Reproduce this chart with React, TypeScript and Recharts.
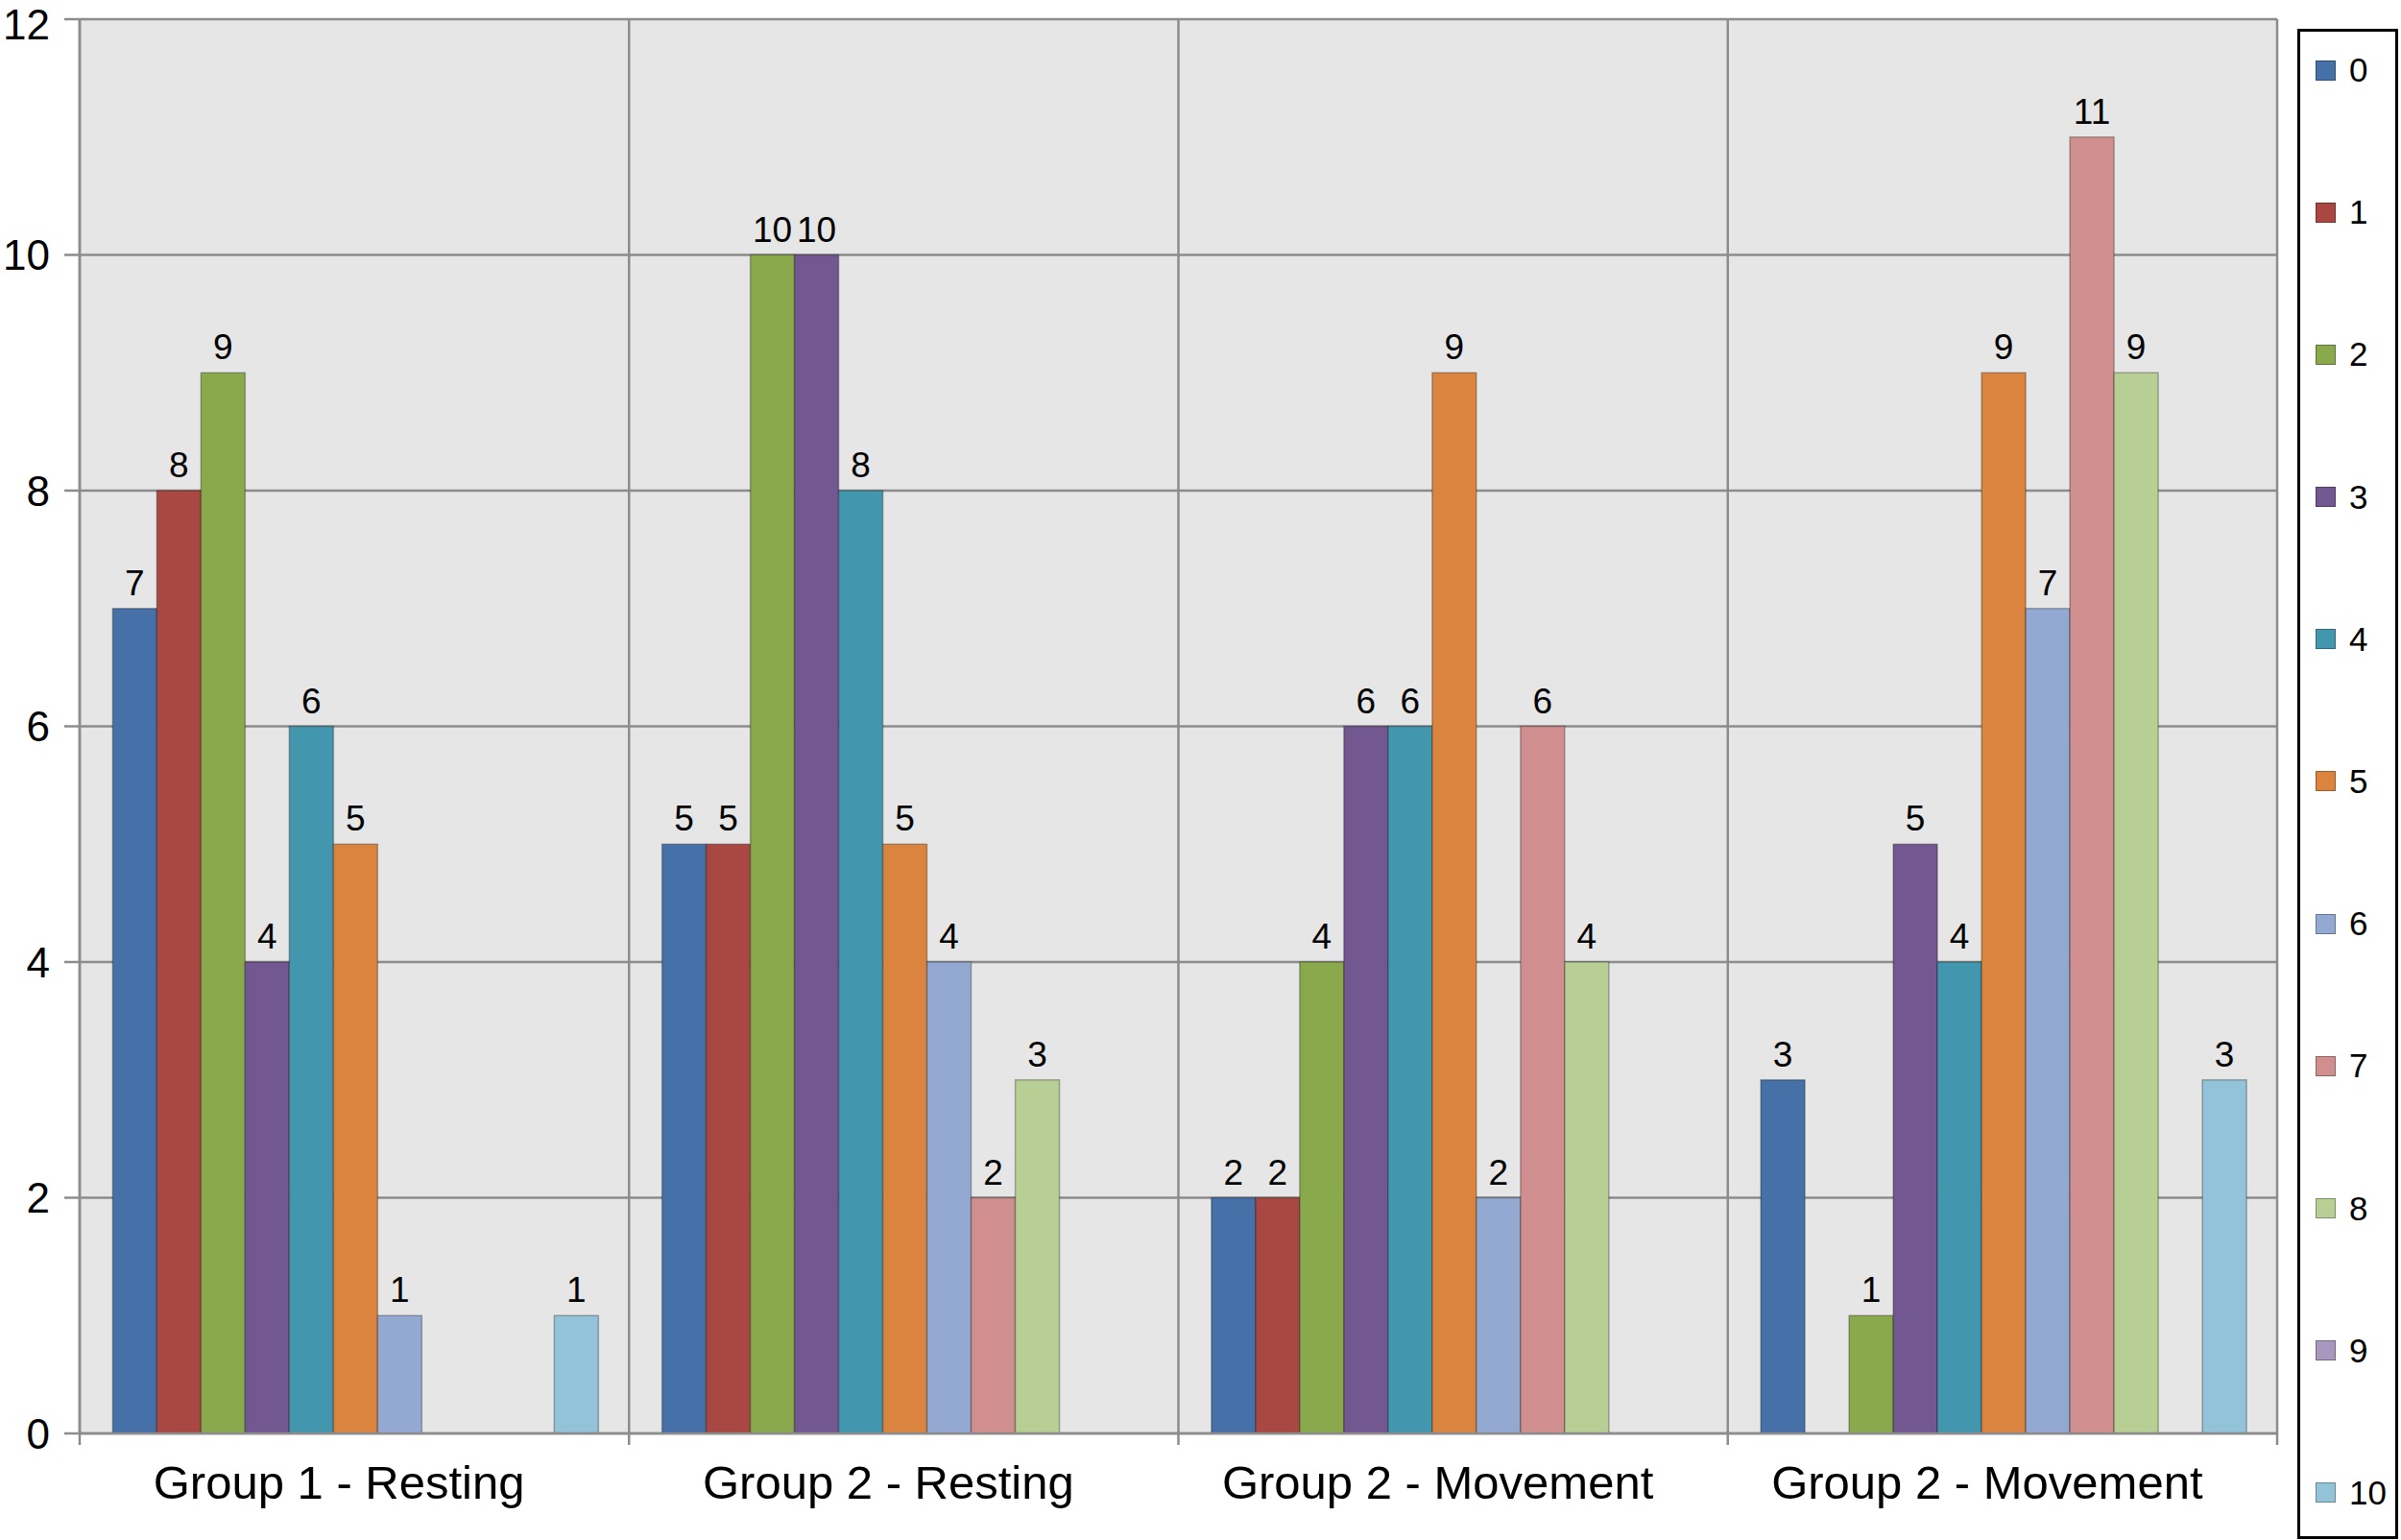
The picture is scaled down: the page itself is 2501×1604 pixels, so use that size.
import React from 'react';
import { BarChart, Bar, XAxis, YAxis, CartesianGrid, LabelList } from 'recharts';

const categories = ['Group 1 - Resting', 'Group 2 - Resting', 'Group 2 - Movement', 'Group 2 - Movement'];
const seriesNames = ['0', '1', '2', '3', '4', '5', '6', '7', '8', '9', '10'];
const seriesColors = ['#4570A8', '#A94743', '#8AA84C', '#725790', '#4297AE', '#DA843F', '#93A9D1', '#D08F8E', '#B7CE94', '#A898C0', '#92C3D8'];

const group1Resting = [7, 8, 9, 4, 6, 5, 1, 0, 0, 0, 1];
const group2Resting = [5, 5, 10, 10, 8, 5, 4, 2, 3, 0, 0];
const group2MovementA = [2, 2, 4, 6, 6, 9, 2, 6, 4, 0, 0];
const group2MovementB = [3, 0, 1, 5, 4, 9, 7, 11, 9, 0, 3];

const yTicks = [0, 2, 4, 6, 8, 10, 12];

const groupValues = [group1Resting, group2Resting, group2MovementA, group2MovementB];
const data = categories.map((name, i) => {
  const row: Record<string, any> = { name };
  seriesNames.forEach((s, j) => {
    row['s' + s] = groupValues[i][j];
  });
  return row;
});

const FONT = '"Liberation Sans", Arial, Helvetica, sans-serif';
const GRID = '#8c8c8c';

const CategoryTick = (props: any) => {
  const { x, y, payload, index, visibleTicksCount } = props;
  const half = payload && payload.offset ? payload.offset : 0;
  const isLast = index === (visibleTicksCount ? visibleTicksCount - 1 : categories.length - 1);
  return (
    <g>
      <line x1={x - half} x2={x - half} y1={y} y2={y + 12} stroke={GRID} strokeWidth={2.5} />
      {isLast && <line x1={x + half} x2={x + half} y1={y} y2={y + 12} stroke={GRID} strokeWidth={2.5} />}
      <text
        x={x - 16}
        y={y + 33}
        dy="0.71em"
        textAnchor="middle"
        fontSize={49}
        fill="#000"
        fontFamily={FONT}
      >
        {payload.value}
      </text>
    </g>
  );
};

const verticalLines = ({ offset }: any) =>
  [0, 1, 2, 3, 4].map((i) => offset.left + (i * offset.width) / categories.length);

export default function App() {
  return (
    <div style={{ position: 'absolute', left: 0, top: 0, width: 2501, height: 1604, background: '#fff', fontFamily: FONT }}>
      <BarChart
        width={2501}
        height={1604}
        data={data}
        margin={{ top: 20, right: 129, bottom: 0, left: 0 }}
        barCategoryGap="6%"
        barGap={0}
      >
        <CartesianGrid
          stroke={GRID}
          strokeWidth={2.5}
          fill="#e6e6e6"
          fillOpacity={1}
          verticalCoordinatesGenerator={verticalLines}
        />
        <XAxis
          dataKey="name"
          height={111}
          axisLine={{ stroke: GRID, strokeWidth: 2.5 }}
          tickLine={false}
          tickSize={0}
          tickMargin={0}
          interval={0}
          tick={<CategoryTick />}
        />
        <YAxis
          width={83}
          domain={[0, 12]}
          ticks={yTicks}
          tickSize={16}
          tickMargin={15}
          stroke={GRID}
          strokeWidth={2.5}
          tick={{ fontSize: 44, fill: '#000', fontFamily: FONT }}
        />
        {seriesNames.map((s, j) => (
          <Bar
            key={s}
            dataKey={'s' + s}
            name={s}
            fill={seriesColors[j]}
            stroke="rgba(0,0,0,0.28)"
            strokeWidth={1.5}
            isAnimationActive={false}
          >
            <LabelList
              dataKey={'s' + s}
              position="top"
              offset={14}
              formatter={(v: any) => (v === 0 ? '' : v)}
              style={{ fontSize: 37, fill: '#000', fontFamily: FONT }}
            />
          </Bar>
        ))}
      </BarChart>
      <div
        style={{
          position: 'absolute',
          left: 2393,
          top: 30,
          width: 105,
          height: 1573,
          border: '3px solid #000',
          boxSizing: 'border-box',
          display: 'flex',
          flexDirection: 'column',
          justifyContent: 'space-between',
          paddingTop: 20,
          paddingBottom: 25,
          background: '#fff',
        }}
      >
        {seriesNames.map((s, j) => (
          <div key={s} style={{ height: 40, display: 'flex', alignItems: 'center', paddingLeft: 16 }}>
            <div
              style={{
                width: 21,
                height: 21,
                background: seriesColors[j],
                border: '1px solid rgba(0,0,0,0.3)',
                boxSizing: 'border-box',
                marginRight: 14,
                flexShrink: 0,
              }}
            />
            <span style={{ fontSize: 35, color: '#000', fontFamily: FONT, lineHeight: '40px' }}>{s}</span>
          </div>
        ))}
      </div>
    </div>
  );
}
